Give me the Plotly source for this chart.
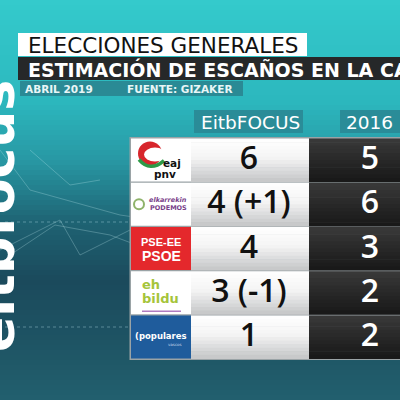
import plotly.graph_objects as go

# ---- data ----
parties = ["EAJ-PNV", "Elkarrekin Podemos", "PSE-EE PSOE", "EH Bildu", "Populares"]
eitb_focus = ["6", "4 (+1)", "4", "3 (-1)", "1"]
results_2016 = ["5", "6", "3", "2", "2"]
col_headers = ["EitbFOCUS", "2016"]
title1 = "ELECCIONES GENERALES"
title2 = "ESTIMACIÓN DE ESCAÑOS EN LA CAV"
date_label = "ABRIL 2019"
source_label = "FUENTE: GIZAKER"
brand = "eitbfocus"

W = H = 400
FONT = "DejaVu Sans"
NUMFONT = "Open Sans"


def lerp(c0, c1, t):
    return "rgb(%d,%d,%d)" % tuple(round(a + (b - a) * t) for a, b in zip(c0, c1))


def vgrad(x0, x1, y0, y1, stops, n=40):
    out = []
    h = (y1 - y0) / n
    for i in range(n):
        t = (i + 0.5) / n
        for k in range(len(stops) - 1):
            p0, c0 = stops[k]
            p1, c1 = stops[k + 1]
            if p0 <= t <= p1:
                col = lerp(c0, c1, (t - p0) / (p1 - p0))
                break
        out.append(dict(type="rect", x0=x0, x1=x1,
                        y0=y0 + i * h, y1=y0 + (i + 1) * h + 0.6,
                        fillcolor=col, line_width=0))
    return out


shapes = []
ann = []

# background gradient
shapes += vgrad(0, W, 0, H, [
    (0.0, (52, 202, 204)), (0.25, (44, 184, 190)), (0.40, (40, 152, 164)),
    (0.56, (30, 98, 114)), (0.70, (27, 74, 92)), (0.86, (30, 84, 100)),
    (1.0, (34, 96, 110))], n=80)

# faint network lines
net = [((0, 150), (30, 190), (120, 215), (190, 225)),
       ((0, 250), (60, 220), (80, 255), (130, 230)),
       ((10, 255), (55, 225), (110, 235), (150, 250)),
       ((30, 150), (70, 185), (100, 180))]
for pts in net:
    path = "M " + " L ".join("%g,%g" % p for p in pts)
    shapes.append(dict(type="path", path=path,
                       line=dict(color="rgba(200,240,245,0.35)", width=0.8)))
for yy in (222, 327):
    shapes.append(dict(type="line", x0=5, x1=130, y0=yy, y1=yy,
                       line=dict(color="rgba(200,240,245,0.35)", width=1, dash="dot")))

# brand vertical text (mostly off the left edge)
ann.append(dict(x=28 / W, y=1 - 354 / H, xref="paper", yref="paper", text="<b>" + brand + "</b>",
                textangle=-90, showarrow=False,
                font=dict(family=FONT, size=52, color="white"),
                xanchor="right", yanchor="bottom"))

# header boxes
shapes.append(dict(type="rect", x0=18, x1=307, y0=33, y1=56, fillcolor="white", line_width=0))
shapes.append(dict(type="rect", x0=18, x1=400, y0=57, y1=80, fillcolor="#262829", line_width=0))
shapes.append(dict(type="rect", x0=20, x1=243, y0=81, y1=96, fillcolor="#2a8a95", line_width=0))
ann.append(dict(x=26, y=45, text=title1, xanchor="left", yanchor="middle",
                font=dict(family=FONT, size=21.5, color="#111111")))
ann.append(dict(x=26, y=69, text="<b>" + title2 + "</b>", xanchor="left", yanchor="middle",
                font=dict(family=FONT, size=19, color="white")))
ann.append(dict(x=23, y=89, text="<b>" + date_label + "</b>", xanchor="left", yanchor="middle",
                font=dict(family=FONT, size=10.5, color="#e8f6f7")))
ann.append(dict(x=125, y=89, text="<b>" + source_label + "</b>", xanchor="left", yanchor="middle",
                font=dict(family=FONT, size=10.5, color="#e8f6f7")))

# column headers
hdr_boxes = [(194, 303), (340, 400)]
for (x0, x1) in hdr_boxes:
    shapes.append(dict(type="rect", x0=x0, x1=x1, y0=110, y1=133,
                       fillcolor="#2a8c98", line_width=0))
ann.append(dict(x=250, y=122, text=col_headers[0],
                font=dict(family=FONT, size=18.5, color="white")))
ann.append(dict(x=344, y=122, text=col_headers[1], xanchor="left",
                font=dict(family=FONT, size=18.5, color="white")))

# table
TOP, RH = 138, 44.2
LX0, LX1, VX1 = 131, 191, 309
shapes.append(dict(type="rect", x0=LX0 - 1.5, x1=400, y0=TOP - 1,
                   y1=TOP + RH * len(parties) + 1, fillcolor="#9aa3a6", line_width=0))
for i in range(len(parties)):
    y0 = TOP + i * RH + 0.6
    y1 = TOP + (i + 1) * RH - 0.6
    shapes += vgrad(LX1, VX1, y0, y1, [(0, (255, 255, 255)), (0.45, (244, 244, 244)),
                                       (1, (196, 198, 199))], n=12)
    shapes += vgrad(VX1, 400, y0, y1, [(0, (58, 58, 58)), (0.5, (40, 40, 40)),
                                       (1, (24, 24, 24))], n=12)


def logo(i, name):
    y0 = TOP + i * RH + 0.6
    y1 = TOP + (i + 1) * RH - 0.6
    cy = (y0 + y1) / 2
    cx = (LX0 + LX1) / 2
    s, a = [], []
    if name == "EAJ-PNV":
        s.append(dict(type="rect", x0=LX0, x1=LX1, y0=y0, y1=y1, fillcolor="white", line_width=0))
        s.append(dict(type="circle", x0=138, x1=162, y0=y0 + 3, y1=y0 + 27,
                      fillcolor="#d7262c", line_width=0))
        s.append(dict(type="circle", x0=144, x1=166, y0=y0 + 9, y1=y0 + 23,
                      fillcolor="white", line_width=0))
        s.append(dict(type="path", path="M 139,%g Q 150,%g 164,%g" % (y0 + 21, y0 + 34, y0 + 22),
                      line=dict(color="#2d9a47", width=3.5)))
        a.append(dict(x=172, y=y0 + 24, text="<b>eaj</b>", font=dict(family=FONT, size=10.5, color="#111")))
        a.append(dict(x=165, y=y0 + 35, text="<b>pnv</b>", font=dict(family=FONT, size=10.5, color="#111")))
    elif name == "Elkarrekin Podemos":
        s.append(dict(type="rect", x0=LX0, x1=LX1, y0=y0, y1=y1, fillcolor="white", line_width=0))
        s.append(dict(type="circle", x0=134, x1=144, y0=cy - 5, y1=cy + 5,
                      fillcolor="rgba(0,0,0,0)", line=dict(color="#8fb36b", width=2)))
        a.append(dict(x=168, y=cy - 4, text="<i><b>elkarrekin</b></i>",
                      font=dict(family=FONT, size=6.5, color="#7a3f8a")))
        a.append(dict(x=168, y=cy + 4, text="<b>PODEMOS</b>",
                      font=dict(family=FONT, size=6.5, color="#7a3f8a")))
    elif name == "PSE-EE PSOE":
        s.append(dict(type="rect", x0=LX0, x1=LX1, y0=y0, y1=y1, fillcolor="#e4282c", line_width=0))
        a.append(dict(x=cx, y=cy - 7, text="<b>PSE-EE</b>",
                      font=dict(family="Liberation Sans Narrow, Liberation Sans", size=11, color="white")))
        a.append(dict(x=cx, y=cy + 7, text="<b>PSOE</b>",
                      font=dict(family="Liberation Sans Narrow, Liberation Sans", size=14, color="white")))
    elif name == "EH Bildu":
        s.append(dict(type="rect", x0=LX0, x1=LX1, y0=y0, y1=y1, fillcolor="white", line_width=0))
        a.append(dict(x=140, y=cy - 8, xanchor="left", text="<b>eh</b>",
                      font=dict(family=FONT, size=13, color="#a5c43a")))
        a.append(dict(x=140, y=cy + 6, xanchor="left", text="<b>bildu</b>",
                      font=dict(family=FONT, size=13, color="#a5c43a")))
        s.append(dict(type="line", x0=142, x1=181, y0=y1 - 3, y1=y1 - 3,
                      line=dict(color="#b07cc0", width=1.5)))
    else:
        s.append(dict(type="rect", x0=LX0, x1=LX1, y0=y0, y1=y1, fillcolor="#1f5c9c", line_width=0))
        a.append(dict(x=cx, y=cy - 1, text="<b>(populares</b>",
                      font=dict(family=FONT, size=8.5, color="white")))
        a.append(dict(x=cx + 14, y=cy + 8, text="vascos",
                      font=dict(family=FONT, size=4, color="#c9d8ea")))
    return s, a


for i, p in enumerate(parties):
    s, a = logo(i, p)
    shapes += s
    ann += a

for d in shapes:
    d.setdefault("xref", "x")
    d.setdefault("yref", "y")
    d["layer"] = "below"
for d in ann:
    d.setdefault("xref", "x")
    d.setdefault("yref", "y")
    d.setdefault("showarrow", False)
    d.setdefault("xanchor", "center")

row_y = [TOP + (i + 0.5) * RH + 1 for i in range(len(parties))]

fig = go.Figure()
fig.add_trace(go.Scatter(x=[249] * len(eitb_focus), y=row_y, text=eitb_focus, mode="text",
                         textfont=dict(family=NUMFONT, size=32, color="#111111", weight=600),
                         hoverinfo="skip", showlegend=False, cliponaxis=False))
fig.add_trace(go.Scatter(x=[370] * len(results_2016), y=row_y, text=results_2016, mode="text",
                         textfont=dict(family=NUMFONT, size=32, color="white", weight=600),
                         hoverinfo="skip", showlegend=False, cliponaxis=False))

fig.update_layout(width=W, height=H, margin=dict(l=0, r=0, t=0, b=0),
                  paper_bgcolor="#2a9aa5", plot_bgcolor="rgba(0,0,0,0)",
                  xaxis=dict(range=[0, W], visible=False, fixedrange=True),
                  yaxis=dict(range=[H, 0], visible=False, fixedrange=True),
                  shapes=shapes, annotations=ann, showlegend=False)
fig.write_html("out.html", config={"displayModeBar": False},
               post_script="document.body.style.margin='0';")
